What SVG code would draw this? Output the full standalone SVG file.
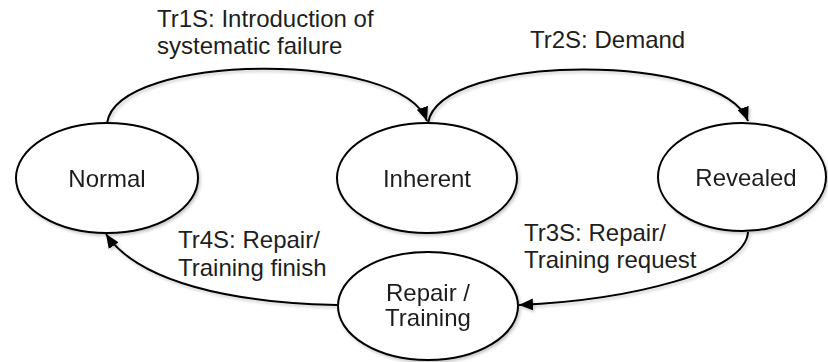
<svg xmlns="http://www.w3.org/2000/svg" width="828" height="362" viewBox="0 0 828 362">
  <style>
    .state { fill: #ffffff; stroke: #000000; stroke-width: 2; }
    .edge { fill: none; stroke: #000000; stroke-width: 2; marker-end: url(#arrow); }
    text { font-family: "Liberation Sans", Arial, sans-serif; font-size: 24px; fill: #1e1e1e; }
    .mid { text-anchor: middle; }
    .shadow { filter: url(#soft); }
  </style>
  <defs>
    <filter id="soft" x="-10%" y="-10%" width="120%" height="130%">
      <feDropShadow dx="1.5" dy="2" stdDeviation="1.5" flood-color="#000000" flood-opacity="0.22"/>
    </filter>
    <marker id="arrow" viewBox="0 0 13 11" refX="13" refY="5.5" markerWidth="14" markerHeight="12" markerUnits="userSpaceOnUse" orient="auto">
      <path d="M0,0 L13,5.5 L0,11 Z" fill="#000000"/>
    </marker>
  </defs>

  <!-- transitions -->
  <g id="connectors" class="shadow">
    <path id="tr1s" class="edge" d="M107,123 C118,52 402,50 427,121"/>
    <path id="tr2s" class="edge" d="M428,123 C440,52 722,52 748,121"/>
    <path id="tr3s" class="edge" d="M748,232 C746,272 630,300 519,305"/>
    <path id="tr4s" class="edge" d="M337,305 C232,303 138,282 106,234"/>
  </g>

  <!-- transition labels -->
  <g id="labels">
    <text x="157" y="27">Tr1S: Introduction of</text>
    <text x="157" y="54">systematic failure</text>
    <text x="530" y="48">Tr2S: Demand</text>
    <text x="524" y="241">Tr3S: Repair/</text>
    <text x="524" y="268">Training request</text>
    <text x="178" y="248">Tr4S: Repair/</text>
    <text x="178" y="276">Training finish</text>
  </g>

  <!-- states -->
  <g id="normal" class="shadow">
    <ellipse class="state" cx="107" cy="178" rx="91" ry="55"/>
    <text class="mid" x="107" y="187">Normal</text>
  </g>
  <g id="inherent" class="shadow">
    <ellipse class="state" cx="427" cy="178" rx="90" ry="55"/>
    <text class="mid" x="427" y="187">Inherent</text>
  </g>
  <g id="revealed" class="shadow">
    <ellipse class="state" cx="742" cy="177" rx="84" ry="54"/>
    <text class="mid" x="746" y="186">Revealed</text>
  </g>
  <g id="repair" class="shadow">
    <ellipse class="state" cx="428" cy="306" rx="90" ry="54"/>
    <text class="mid" x="428" y="301">Repair /</text>
    <text class="mid" x="428" y="326">Training</text>
  </g>
</svg>
